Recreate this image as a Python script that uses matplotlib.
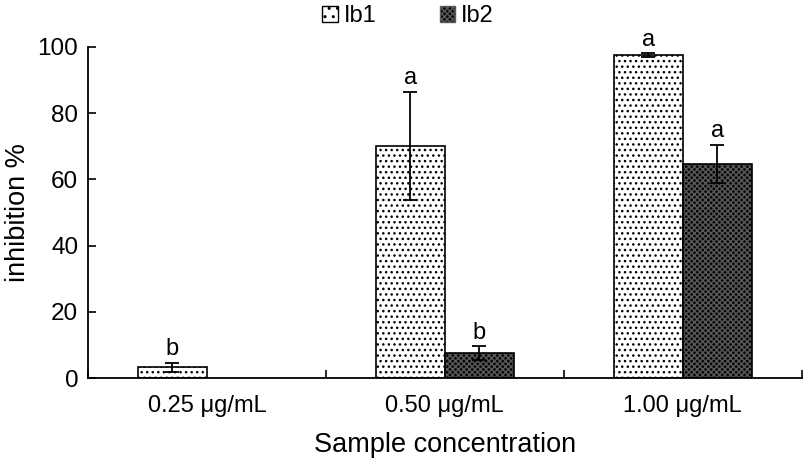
import numpy as np
import matplotlib
matplotlib.use("Agg")
import matplotlib.pyplot as plt
from matplotlib.patches import Patch

plt.rcParams['font.family'] = ['Liberation Sans', 'DejaVu Sans']
plt.rcParams['hatch.linewidth'] = 1.0

concs = ["0.25 \u03bcg/mL", "0.50 \u03bcg/mL", "1.00 \u03bcg/mL"]
ib1 = [3.2, 70.1, 97.6]
ib1_err = [1.4, 16.3, 0.5]
ib1_sig = ["b", "a", "a"]
ib2 = [0.0, 7.5, 64.6]
ib2_err = [0.0, 2.1, 5.8]
ib2_sig = [None, "b", "a"]

x = np.arange(len(concs))
w = 0.29
dark_face = '#050505'
dark_hatch = '#5a5a5a'

fig = plt.figure(figsize=(8.1, 4.65), dpi=100)
ax = fig.add_axes([0.1086, 0.187, 0.881, 0.712])

# Ib1: white with dots
ax.bar(x - w / 2, ib1, w, color='white', edgecolor='black', hatch='...', linewidth=0)
ax.bar(x - w / 2, ib1, w, fill=False, edgecolor='black', linewidth=1.2)
# Ib2: dark with light crosshatch
ax.bar(x + w / 2, ib2, w, color=dark_face, edgecolor=dark_hatch, hatch='xxxxxx', linewidth=0)
for xi, v in zip(x, ib2):
    if v > 0:
        ax.bar(xi + w / 2, v, w, fill=False, edgecolor='black', linewidth=1.2)

for xi, v, e in zip(x - w / 2, ib1, ib1_err):
    ax.errorbar(xi, v, yerr=e, fmt='none', ecolor='black', elinewidth=1.3, capsize=5, capthick=1.3)
for xi, v, e in zip(x + w / 2, ib2, ib2_err):
    if v > 0:
        ax.errorbar(xi, v, yerr=e, fmt='none', ecolor='black', elinewidth=1.3, capsize=5, capthick=1.3)

for xi, v, e, s in zip(x - w / 2, ib1, ib1_err, ib1_sig):
    if s:
        ax.text(xi, v + e + 0.8, s, ha='center', va='bottom', fontsize=17)
for xi, v, e, s in zip(x + w / 2, ib2, ib2_err, ib2_sig):
    if s:
        ax.text(xi, v + e + 0.8, s, ha='center', va='bottom', fontsize=17)

ax.set_xlim(-0.5, 2.5)
ax.set_ylim(0, 100)
ax.set_yticks([0, 20, 40, 60, 80, 100])
ax.set_xticks(x)
ax.set_xticklabels(concs)
ax.set_xticks([-0.5, 0.5, 1.5, 2.5], minor=True)
ax.tick_params(axis='x', which='major', length=0, labelsize=17, pad=12)
ax.tick_params(axis='x', which='minor', direction='in', length=6, width=1.2)
ax.tick_params(axis='y', direction='in', length=6, width=1.2, labelsize=17.5, pad=7)
for side in ['top', 'right']:
    ax.spines[side].set_visible(False)
for side in ['left', 'bottom']:
    ax.spines[side].set_linewidth(1.3)

ax.set_ylabel("inhibition %", fontsize=19.5, va='center')
ax.yaxis.set_label_coords(-0.098, 0.5)
ax.set_xlabel("Sample concentration", fontsize=19.5, labelpad=11)

handles = [Patch(facecolor='white', edgecolor='black', hatch='..', label='Ib1'),
           Patch(facecolor=dark_face, edgecolor=dark_hatch, hatch='xxxxxx', label='Ib2')]
fig.legend(handles=handles, loc='upper center', bbox_to_anchor=(0.504, 1.035), ncol=2,
           frameon=False, fontsize=17, handlelength=0.65, handleheight=0.65,
           handletextpad=0.25, columnspacing=2.7)

fig.savefig("out.png", dpi=100)
